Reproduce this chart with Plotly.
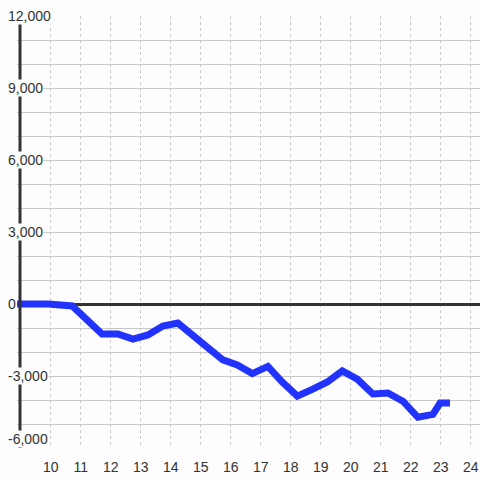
import plotly.graph_objects as go

# hour of day vs cumulative value
hours = [8.88, 9.91, 10.72, 11.71, 12.24, 12.74, 13.24, 13.74, 14.24, 14.72,
         15.22, 15.74, 16.22, 16.72, 17.24, 17.72, 18.22, 18.72, 19.22, 19.72,
         20.22, 20.74, 21.24, 21.74, 22.24, 22.74, 22.98, 23.31]
values = [0, 0, -80, -1250, -1250, -1460, -1290, -920, -790, -1250,
          -1800, -2330, -2540, -2900, -2600, -3250, -3840, -3560, -3250, -2790,
          -3130, -3750, -3710, -4050, -4720, -4600, -4130, -4130]

x_ticks = list(range(10, 25))
y_labels = [12000, 9000, 6000, 3000, 0, -3000, -6000]

BG = "#fcfdfc"
TEXT = "#333333"
FONT = "Liberation Sans, Arial, sans-serif"

fig = go.Figure(go.Scatter(
    x=hours,
    y=values,
    mode="lines",
    line=dict(color="#2233ff", width=7),
    hoverinfo="skip",
))

# y axis line drawn by hand so that labels can sit on top of it
fig.add_shape(
    type="line", xref="x", yref="y",
    x0=8.977, x1=8.977, y0=-6000, y1=12000,
    line=dict(color="#333333", width=3),
    layer="above",
)

for v in y_labels:
    fig.add_annotation(
        xref="paper", yref="y",
        x=0, y=v, xshift=-10,
        xanchor="left",
        yanchor="bottom" if v == -6000 else "middle",
        text=f"{v:,}",
        showarrow=False,
        bgcolor=BG,
        borderpad=0,
        font=dict(size=14, color=TEXT, family=FONT),
    )

fig.update_layout(
    width=480, height=480,
    margin=dict(l=17, r=0, t=16, b=32),
    paper_bgcolor=BG,
    plot_bgcolor=BG,
    showlegend=False,
    font=dict(family=FONT, size=14, color=TEXT),
)
fig.update_xaxes(
    range=[8.877, 24.31],
    tickvals=x_ticks,
    tickfont=dict(size=14, color=TEXT),
    showgrid=True,
    gridcolor="#c8c8c8",
    gridwidth=1,
    griddash="3px,3px",
    zeroline=False,
    showline=False,
    ticks="outside",
    ticklen=6,
    tickcolor="rgba(0,0,0,0)",
)
fig.update_yaxes(
    range=[-6000, 12000],
    tick0=0,
    dtick=1000,
    showticklabels=False,
    showgrid=True,
    gridcolor="#c8c8c8",
    gridwidth=1,
    zeroline=True,
    zerolinecolor="#333333",
    zerolinewidth=3,
    showline=False,
)

# drop the default page margin so the figure fills the window
fig.write_html(
    "out.html",
    config={"displayModeBar": False},
    post_script="document.body.style.margin='0';"
                "document.body.style.overflow='hidden';",
)
